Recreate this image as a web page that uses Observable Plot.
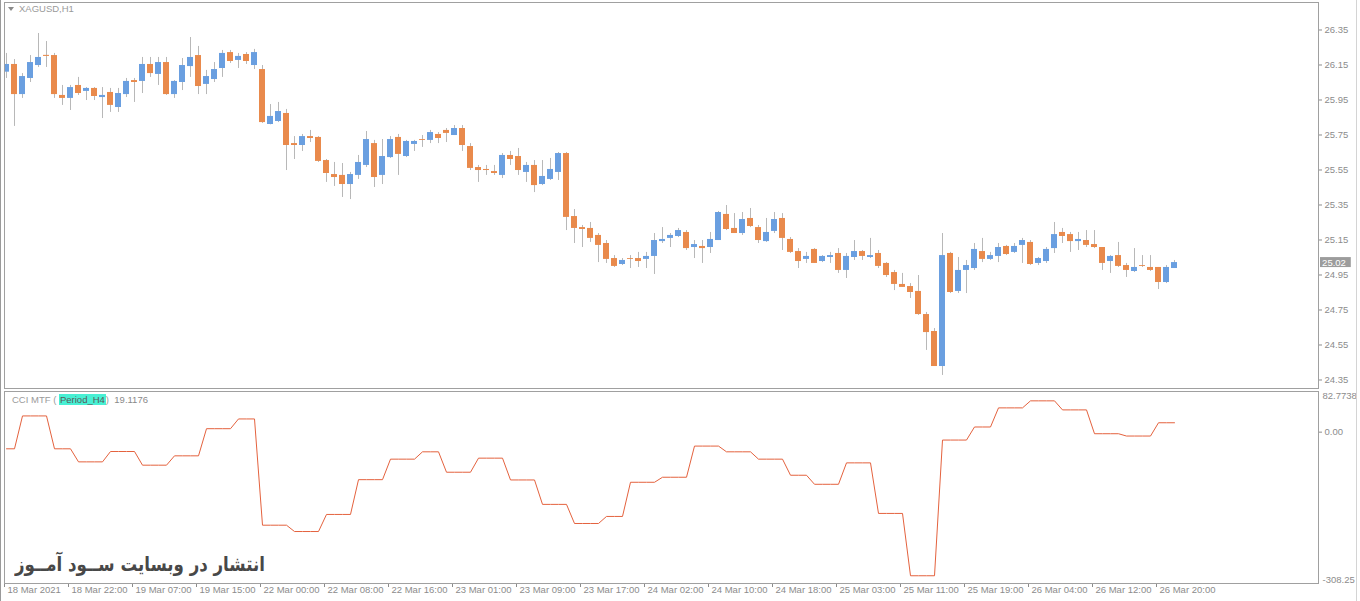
<!DOCTYPE html>
<html>
<head>
<meta charset="utf-8">
<script src="https://cdn.jsdelivr.net/npm/d3@7"></script>
<script src="https://cdn.jsdelivr.net/npm/@observablehq/plot@0.6"></script>
<style>
  html, body { margin: 0; padding: 0; background: #fff; }
  body { position: relative; width: 1360px; height: 601px; overflow: hidden; font-family: "Liberation Sans", Arial, sans-serif; }
  #main, #cci { position: absolute; left: 0; }
  #main { top: 0; }
  #cci { top: 390px; }
  .lbl { position: absolute; font-size: 9.5px; color: #9a9a9a; white-space: nowrap; line-height: 12px; }
  .tri { display: inline-block; width: 0; height: 0; border-left: 3.5px solid transparent; border-right: 3.5px solid transparent; border-top: 4px solid #8a8a8a; margin-right: 5px; vertical-align: 1px; }
  .hl { background: #48f0d4; color: #5a5a5a; padding: 0 1px; }
  #wm { position: absolute; left: 15px; top: 550px; font-family: "DejaVu Sans", sans-serif; font-weight: bold; font-size: 20px; line-height: 28px; color: #484848; direction: rtl; white-space: nowrap; transform: scaleX(0.83); transform-origin: left center; }
  .edge { position: absolute; top: 0; width: 1px; height: 601px; }
</style>
</head>
<body>
<div id="main"></div>
<div id="cci"></div>
<div class="edge" style="left:0;background:#9a9a9a"></div>
<div class="edge" style="left:1356px;background:#d4d4d4"></div>
<div class="lbl" style="left:8px;top:3px"><span class="tri"></span>XAGUSD,H1</div>
<div class="lbl" style="left:12px;top:393.5px">CCI MTF ( <span class="hl">Period_H4</span>)&nbsp;&nbsp;<span style="color:#8a8a8a">19.1176</span></div>
<div id="wm">انتشار در وبسایت ســود آمــوز</div>
<script>
// ---- Data (XAGUSD H1, one entry per bar) ----
const open = [
26.109, 26.153, 25.981, 26.073, 26.147, 26.205, 26.204, 25.976, 25.959, 26.033,
25.999, 26.016, 25.964, 25.993, 25.907, 25.981, 26.061, 26.056, 26.153, 26.096,
26.164, 25.981, 26.050, 26.141, 26.204, 26.039, 26.067, 26.130, 26.221, 26.176,
26.210, 26.147, 26.124, 25.810, 25.827, 25.873, 25.701, 25.690, 25.741, 25.736,
25.604, 25.524, 25.519, 25.467, 25.519, 25.576, 25.701, 25.519, 25.621, 25.736,
25.627, 25.696, 25.724, 25.719, 25.753, 25.776, 25.747, 25.787, 25.684, 25.564,
25.553, 25.541, 25.519, 25.633, 25.627, 25.536, 25.576, 25.467, 25.496, 25.536,
25.644, 25.284, 25.221, 25.216, 25.176, 25.130, 25.044, 25.010, 25.044, 25.044,
25.039, 25.056, 25.141, 25.159, 25.170, 25.193, 25.107, 25.113, 25.107, 25.147,
25.296, 25.216, 25.187, 25.273, 25.221, 25.141, 25.199, 25.273, 25.153, 25.084,
25.039, 25.096, 25.027, 25.050, 25.073, 24.976, 25.050, 25.084, 25.050, 25.073,
25.016, 24.964, 24.896, 24.884, 24.856, 24.724, 24.627, 24.427, 25.073, 24.856,
24.976, 24.987, 25.084, 25.039, 25.056, 25.113, 25.079, 25.119, 25.136, 25.016,
25.027, 25.101, 25.193, 25.181, 25.141, 25.147, 25.124, 25.107, 25.027, 25.061,
25.004, 24.970, 25.004, 24.993, 24.993, 24.907, 24.987
];
const high = [
26.216, 26.181, 26.101, 26.204, 26.330, 26.284, 26.216, 26.033, 26.033, 26.079,
26.021, 26.021, 26.021, 26.016, 26.016, 26.073, 26.073, 26.193, 26.193, 26.193,
26.193, 26.061, 26.187, 26.307, 26.256, 26.119, 26.164, 26.233, 26.233, 26.216,
26.221, 26.239, 26.147, 25.924, 25.936, 25.896, 25.741, 25.753, 25.776, 25.741,
25.610, 25.593, 25.587, 25.536, 25.633, 25.770, 25.719, 25.724, 25.741, 25.753,
25.719, 25.719, 25.747, 25.776, 25.764, 25.787, 25.804, 25.804, 25.701, 25.576,
25.576, 25.576, 25.644, 25.656, 25.673, 25.593, 25.604, 25.604, 25.616, 25.650,
25.650, 25.324, 25.233, 25.250, 25.187, 25.147, 25.061, 25.044, 25.061, 25.079,
25.079, 25.187, 25.221, 25.187, 25.216, 25.204, 25.147, 25.147, 25.193, 25.313,
25.347, 25.301, 25.307, 25.330, 25.233, 25.273, 25.307, 25.301, 25.164, 25.101,
25.079, 25.101, 25.061, 25.079, 25.101, 25.073, 25.147, 25.090, 25.159, 25.090,
25.021, 24.976, 24.959, 24.901, 24.947, 24.736, 24.644, 25.187, 25.079, 25.050,
25.033, 25.130, 25.159, 25.079, 25.130, 25.119, 25.130, 25.159, 25.147, 25.050,
25.107, 25.250, 25.216, 25.193, 25.193, 25.204, 25.204, 25.107, 25.061, 25.136,
25.016, 25.101, 25.061, 25.061, 24.993, 25.004, 25.033
];
const low = [
26.073, 25.799, 25.959, 26.050, 26.136, 26.136, 25.959, 25.919, 25.890, 25.976,
25.947, 25.947, 25.844, 25.879, 25.879, 25.964, 25.936, 25.987, 26.079, 26.033,
25.976, 25.959, 26.004, 26.079, 25.981, 25.981, 26.050, 26.079, 26.159, 26.130,
26.153, 26.124, 25.816, 25.808, 25.821, 25.547, 25.610, 25.656, 25.707, 25.593,
25.479, 25.456, 25.393, 25.381, 25.496, 25.564, 25.450, 25.467, 25.616, 25.519,
25.621, 25.656, 25.679, 25.701, 25.701, 25.707, 25.747, 25.656, 25.547, 25.479,
25.519, 25.519, 25.501, 25.576, 25.519, 25.479, 25.421, 25.461, 25.490, 25.490,
25.204, 25.130, 25.107, 25.136, 25.021, 25.016, 24.993, 25.004, 24.987, 24.993,
24.987, 24.953, 25.130, 25.107, 25.164, 25.090, 25.044, 25.016, 25.073, 25.147,
25.204, 25.187, 25.176, 25.221, 25.130, 25.136, 25.187, 25.090, 25.073, 24.987,
25.016, 25.016, 25.021, 25.016, 24.959, 24.930, 25.033, 25.033, 25.044, 24.987,
24.936, 24.861, 24.879, 24.816, 24.719, 24.519, 24.427, 24.376, 24.844, 24.844,
24.844, 24.976, 25.021, 25.033, 25.021, 25.061, 25.073, 25.016, 25.004, 25.004,
25.016, 25.073, 25.130, 25.079, 25.090, 25.107, 25.101, 24.976, 24.959, 24.993,
24.936, 24.964, 24.993, 24.970, 24.867, 24.901, 24.987
];
const close = [
26.153, 25.981, 26.084, 26.164, 26.193, 26.199, 25.981, 25.959, 26.021, 25.987,
26.016, 25.970, 25.976, 25.919, 25.987, 26.056, 26.050, 26.153, 26.101, 26.164,
25.981, 26.056, 26.147, 26.193, 26.027, 26.084, 26.124, 26.216, 26.170, 26.199,
26.170, 26.221, 25.821, 25.856, 25.884, 25.690, 25.690, 25.741, 25.730, 25.599,
25.530, 25.507, 25.467, 25.524, 25.593, 25.724, 25.507, 25.627, 25.724, 25.639,
25.713, 25.713, 25.719, 25.764, 25.730, 25.759, 25.787, 25.690, 25.559, 25.547,
25.547, 25.530, 25.633, 25.610, 25.547, 25.576, 25.461, 25.513, 25.553, 25.644,
25.279, 25.216, 25.210, 25.159, 25.119, 25.039, 24.999, 25.033, 25.039, 25.027,
25.056, 25.147, 25.153, 25.176, 25.204, 25.101, 25.124, 25.101, 25.153, 25.307,
25.210, 25.187, 25.267, 25.227, 25.147, 25.193, 25.267, 25.159, 25.079, 25.027,
25.056, 25.016, 25.056, 25.061, 24.976, 25.056, 25.084, 25.056, 25.061, 24.999,
24.947, 24.896, 24.879, 24.850, 24.724, 24.621, 24.427, 25.061, 24.850, 24.976,
25.004, 25.096, 25.039, 25.061, 25.107, 25.067, 25.113, 25.147, 25.010, 25.044,
25.096, 25.181, 25.170, 25.141, 25.153, 25.119, 25.107, 25.016, 25.056, 24.999,
24.976, 24.993, 24.999, 24.976, 24.907, 24.993, 25.021
];
// CCI MTF (Period_H4) value on each H1 bar
const cci = [
-33.92, -33.92, 33.02, 33.02, 33.02, 33.02, -33.92, -33.92, -33.92, -60.54,
-60.54, -60.54, -60.54, -39.45, -39.45, -39.45, -39.45, -67.29, -67.29, -67.29,
-67.29, -48.25, -48.25, -48.25, -48.25, 7.02, 7.02, 7.02, 7.02, 26.88,
26.88, 26.88, -189.51, -189.51, -189.51, -189.51, -202.41, -202.41, -202.41, -202.41,
-167.61, -167.61, -167.61, -167.61, -96.77, -96.77, -96.77, -96.77, -55.01, -55.01,
-55.01, -55.01, -40.06, -40.06, -40.06, -81.62, -81.62, -81.62, -81.62, -52.96,
-52.96, -52.96, -52.96, -97.39, -97.39, -97.39, -97.39, -147.13, -147.13, -147.13,
-147.13, -186.03, -186.03, -186.03, -186.03, -171.70, -171.70, -171.70, -102.09, -102.09,
-102.09, -102.09, -91.86, -91.86, -91.86, -91.86, -28.39, -28.39, -28.39, -28.39,
-40.06, -40.06, -40.06, -40.06, -55.01, -55.01, -55.01, -55.01, -87.76, -87.76,
-87.76, -106.19, -106.19, -106.19, -106.19, -62.58, -62.58, -62.58, -62.58, -165.56,
-165.56, -165.56, -165.56, -292.49, -292.49, -292.49, -292.49, -16.11, -16.11, -16.11,
-16.11, 10.50, 10.50, 10.50, 49.40, 49.40, 49.40, 49.40, 63.73, 63.73,
63.73, 63.73, 45.31, 45.31, 45.31, 45.31, -3.21, -3.21, -3.21, -3.21,
-7.92, -7.92, -7.92, -7.92, 19.1176, 19.1176, 19.1176
];
const priceTicks = [26.35, 26.15, 25.95, 25.75, 25.55, 25.35, 25.15, 24.95, 24.75, 24.55, 24.35];
const timeTickIdx = [0, 8, 16, 24, 32, 40, 48, 56, 64, 72, 80, 88, 96, 104, 112, 120, 128, 136, 144];
const timeTickLabels = ["18 Mar 2021", "18 Mar 22:00", "19 Mar 07:00", "19 Mar 15:00", "22 Mar 00:00",
  "22 Mar 08:00", "22 Mar 16:00", "23 Mar 01:00", "23 Mar 09:00", "23 Mar 17:00", "24 Mar 02:00",
  "24 Mar 10:00", "24 Mar 18:00", "25 Mar 03:00", "25 Mar 11:00", "25 Mar 19:00", "26 Mar 04:00",
  "26 Mar 12:00", "26 Mar 20:00"];
const priceRange = [24.3014, 26.5071];
const cciRange = [-308.25, 82.7738];

// ---- Build ----
const UP = "#6a9fe0", DOWN = "#e98a4c", WICK = "#b8b8b8", AXIS = "#8c8c8c", BORDER = "#a0a0a0";
const bars = open.map((o, i) => ({i, o, h: high[i], l: low[i], c: close[i], up: close[i] >= o}));
const xDomain = [-0.25, 164];
const lastPrice = close[close.length - 1];
const font = {fontFamily: "'Liberation Sans', Arial, sans-serif", fontSize: "9.5px", color: AXIS, background: "#fff"};

const mainPlot = Plot.plot({
  width: 1360, height: 390,
  marginLeft: 4, marginRight: 42, marginTop: 2, marginBottom: 2,
  style: font,
  x: {domain: xDomain, axis: null},
  y: {domain: priceRange, axis: "right", ticks: priceTicks, tickFormat: d3.format(".2f"), tickSize: 3, tickPadding: 3, label: null},
  marks: [
    Plot.ruleX(bars, {x: "i", y1: "l", y2: "h", stroke: WICK, strokeWidth: 1, clip: true}),
    Plot.rect(bars, {x1: d => d.i - 0.375, x2: d => d.i + 0.375, y1: "o", y2: "c", fill: d => d.up ? UP : DOWN, clip: true}),
    Plot.rect([lastPrice], {x1: () => xDomain[1] + 0.25, x2: () => xDomain[1] + 4.1, y1: d => d - 0.0285, y2: d => d + 0.0285, fill: "#9c9c9c"}),
    Plot.text([lastPrice], {x: () => xDomain[1] + 0.45, y: d => d, text: d => d3.format(".2f")(d), textAnchor: "start", fill: "#fff"}),
    Plot.frame({stroke: BORDER})
  ]
});
document.getElementById("main").appendChild(mainPlot);

const cciPlot = Plot.plot({
  width: 1360, height: 211,
  marginLeft: 4, marginRight: 42, marginTop: 1, marginBottom: 18,
  style: font,
  x: {domain: xDomain, axis: "bottom", ticks: timeTickIdx.map(k => k - 0.25), tickFormat: () => "", tickSize: 4, label: null},
  y: {domain: cciRange, axis: "right", ticks: [0], tickFormat: d3.format(".2f"), tickSize: 3, tickPadding: 3, label: null},
  marks: [
    Plot.line(cci, {x: (d, i) => i, y: d => d, stroke: "#e4623e", strokeWidth: 1}),
    Plot.text(timeTickLabels, {x: (d, i) => timeTickIdx[i], text: d => d, frameAnchor: "bottom", dy: 9, dx: 1, textAnchor: "start", fill: AXIS}),
    Plot.text([cciRange[1]], {y: d => d, text: d => String(d), frameAnchor: "right", dx: 4, dy: 1, textAnchor: "start", lineAnchor: "top", fill: AXIS}),
    Plot.text([cciRange[0]], {y: d => d, text: d => String(d), frameAnchor: "right", dx: 4, dy: -1, textAnchor: "start", lineAnchor: "bottom", fill: AXIS}),
    Plot.frame({stroke: BORDER})
  ]
});
document.getElementById("cci").appendChild(cciPlot);
</script>
</body>
</html>
